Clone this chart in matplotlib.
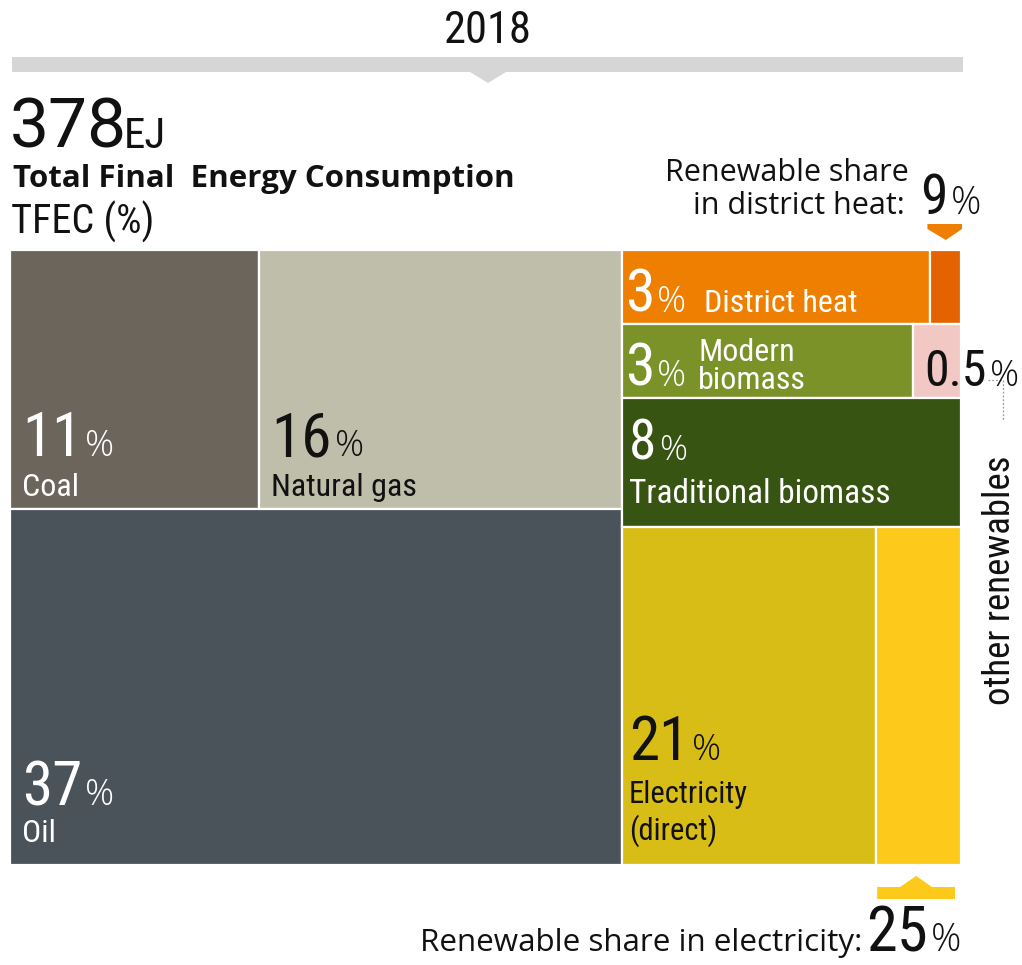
import matplotlib
matplotlib.use("Agg")
import matplotlib.pyplot as plt
from matplotlib.patches import Rectangle, Polygon
from matplotlib.lines import Line2D

# Total final energy consumption, 2018 (shares in %)
year = "2018"
total_ej = 378
fossil_names = ["Coal", "Natural gas", "Oil"]
fossil_share = [11, 16, 37]
other_names = ["District heat", "Modern\nbiomass", "Traditional biomass", "Electricity\n(direct)"]
other_share = [3, 3, 8, 21]
other_renewables = 0.5          # sits next to modern biomass
renew_heat = 9                  # renewable share in district heat (%)
renew_elec = 25                 # renewable share in electricity (%)

colors = {
    "Coal": "#6C655C", "Natural gas": "#BFBEAB", "Oil": "#4A525A",
    "District heat": "#EE7F00", "heat_renew": "#E46200",
    "Modern\nbiomass": "#7B9229", "other": "#F1C8C3",
    "Traditional biomass": "#375412",
    "Electricity\n(direct)": "#D9BD17", "elec_renew": "#FDC91B",
}

COND = "Roboto Condensed"
SANS = "Open Sans"
INK = "#111111"
W, H = 1022, 965
MIN_ROW = 0.12      # smallest row height in the right column (keeps labels readable)

fig = plt.figure(figsize=(W / 100, H / 100), dpi=100)
renderer = fig.canvas.get_renderer()


def put(x, y, s, **kw):
    # x, y in pixels, y counted from the top of the figure
    kw.setdefault("va", "baseline")
    return fig.text(x / W, 1 - y / H, s, **kw)


def share_label(x, y, value, size, pct_size, color, family=COND, gap=3):
    t = put(x, y, f"{value:g}", fontsize=size, color=color, family=family)
    bb = t.get_window_extent(renderer)
    p = put(bb.x1 + gap, y, "%", fontsize=pct_size, color=color, family=SANS, weight=300)
    return p.get_window_extent(renderer)


def poly(points, color):
    pts = [(x / W, 1 - y / H) for x, y in points]
    fig.patches.append(Polygon(pts, closed=True, transform=fig.transFigure,
                               facecolor=color, edgecolor="none"))


# ---- treemap ----
ax = fig.add_axes([10 / W, 1 - 865 / H, 951 / W, 615 / H])
left_w = sum(fossil_share)
right_w = sum(other_share) + other_renewables
total = left_w + right_w
ax.set_xlim(0, total)
ax.set_ylim(0, 1)
ax.axis("off")

cells = {}


def cell(key, x, y, w, h, color):
    ax.add_patch(Rectangle((x, y), w, h, facecolor=color, edgecolor="white", lw=1.6))
    (x0, y0), (x1, y1) = ax.transData.transform([(x, y), (x + w, y + h)])
    cells[key] = (x0, H - y1, x1, H - y0)   # left, top, right, bottom in pixels


coal, gas, oil = fossil_share
top_h = (coal + gas) / left_w
coal_w = left_w * coal / (coal + gas)
cell("Coal", 0, 1 - top_h, coal_w, top_h, colors["Coal"])
cell("Natural gas", coal_w, 1 - top_h, left_w - coal_w, top_h, colors["Natural gas"])
cell("Oil", 0, 0, left_w, oil / left_w, colors["Oil"])

# right column: rows stacked top to bottom, small rows get a minimum height
row_vals = list(other_share)
row_vals[1] += other_renewables
heights = [rv / right_w for rv in row_vals]
small = [h < MIN_ROW for h in heights]
free = 1 - MIN_ROW * sum(small)
big_sum = sum(rv for rv, s in zip(row_vals, small) if not s)
heights = [MIN_ROW if s else free * rv / big_sum for rv, s in zip(row_vals, small)]

ytop = 1.0
for name, share, rv, h in zip(other_names, other_share, row_vals, heights):
    y = ytop - h
    if name == "District heat":
        wr = right_w * renew_heat / 100
        cell(name, left_w, y, right_w - wr, h, colors[name])
        cell("heat_renew", left_w + right_w - wr, y, wr, h, colors["heat_renew"])
    elif name.startswith("Modern"):
        wm = right_w * share / rv
        cell(name, left_w, y, wm, h, colors[name])
        cell("other", left_w + wm, y, right_w - wm, h, colors["other"])
    elif name.startswith("Electricity"):
        wr = right_w * renew_elec / 100
        cell(name, left_w, y, right_w - wr, h, colors[name])
        cell("elec_renew", left_w + right_w - wr, y, wr, h, colors["elec_renew"])
    else:
        cell(name, left_w, y, right_w, h, colors[name])
    ytop = y

# ---- cell labels ----
for name, share in zip(fossil_names, fossil_share):
    l, t, r, b = cells[name]
    c = INK if name == "Natural gas" else "white"
    if name == "Oil":
        share_label(l + 12, b - 60, share, 44, 26, c)
        put(l + 12, b - 23, name, fontsize=23, color=c, family=COND)
    else:
        share_label(l + 12, b - 53, share, 44, 26, c)
        put(l + 12, b - 13, name, fontsize=23, color=c, family=COND)

l, t, r, b = cells["District heat"]
base = b - 12
bb = share_label(l + 3, base, other_share[0], 43, 26, "white")
put(bb.x1 + 18, base, "District heat", fontsize=23, color="white", family=COND)

l, t, r, b = cells["Modern\nbiomass"]
base = b - 12
bb = share_label(l + 3, base, other_share[1], 43, 26, "white")
put(bb.x1 + 12, base - 25, "Modern", fontsize=23, color="white", family=COND)
put(bb.x1 + 12, base + 3, "biomass", fontsize=23, color="white", family=COND)

l, t, r, b = cells["Traditional biomass"]
share_label(l + 7, t + 62, other_share[2], 40, 25, "white")
put(l + 7, t + 105, "Traditional biomass", fontsize=24, color="white", family=COND)

l, t, r, b = cells["Electricity\n(direct)"]
share_label(l + 7, b - 105, other_share[3], 44, 26, INK)
put(l + 7, b - 62, "Electricity", fontsize=22, color=INK, family=COND)
put(l + 7, b - 25, "(direct)", fontsize=22, color=INK, family=COND)

# ---- header ----
poly([(12, 57), (963, 57), (963, 72), (506, 72), (488, 83), (470, 72), (12, 72)], "#D6D6D6")
put(488, 43, year, fontsize=32, ha="center", family=COND, color=INK)
t = put(10, 148, f"{total_ej}", fontsize=50, family="Roboto", color=INK)
bb = t.get_window_extent(renderer)
put(bb.x1 - 3, 148, "EJ", fontsize=31, family=COND, color=INK)
put(13, 187, "Total Final  Energy Consumption", fontsize=22.5, weight="bold",
    family=SANS, color=INK)
put(11, 234, "TFEC (%)", fontsize=29, family=COND, color=INK)

# ---- renewable share in district heat ----
put(909, 181, "Renewable share", fontsize=22, ha="right", family=SANS, color=INK)
put(905, 214, "in district heat:", fontsize=22, ha="right", family=SANS, color=INK)
share_label(920, 214, renew_heat, 40, 27, INK)
l, t, r, b = cells["heat_renew"]
mx = (l + r) / 2
poly([(l - 3, 224), (r + 1, 224), (r + 1, 229), (mx, 240), (l - 3, 229)], colors["District heat"])

# ---- other renewables ----
l, t, r, b = cells["other"]
base = b - 12
share_label(l + 12, base, other_renewables, 36, 26, INK)
ly = base - 6
fig.lines.append(Line2D([988 / W, 1003 / W, 1003 / W], [1 - ly / H, 1 - ly / H, 1 - 420 / H],
                        transform=fig.transFigure, color="#9A9A9A", lw=0.9, ls=(0, (1.5, 1.5))))
put(1000, 580, "other renewables", fontsize=26.5, rotation=90, ha="center", va="center",
    family=COND, color=INK)

# ---- renewable share in electricity ----
l, t, r, b = cells["elec_renew"]
x0, x1 = l + 1, r - 6
mx = (x0 + x1) / 2
poly([(x0, 887), (mx - 16, 887), (mx, 876), (mx + 16, 887), (x1, 887), (x1, 899), (x0, 899)],
     colors["elec_renew"])
put(862, 951, "Renewable share in electricity:", fontsize=22.6, ha="right", family=SANS,
    color=INK)
share_label(866, 951, renew_elec, 45, 27, INK)

fig.savefig("out.png", dpi=100)
